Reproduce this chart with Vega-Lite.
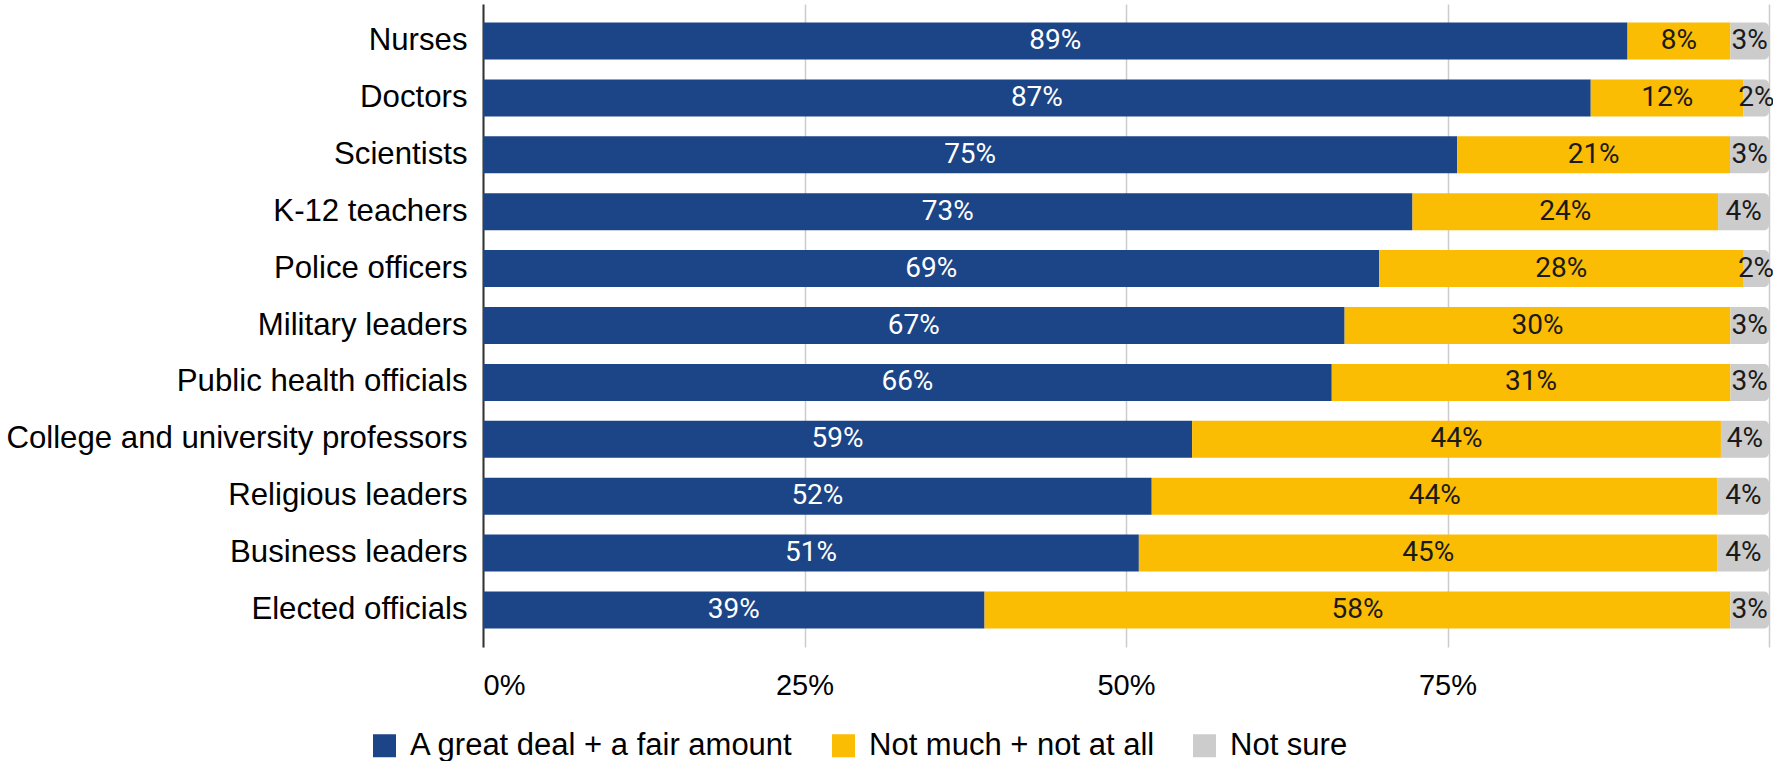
{
  "$schema": "https://vega.github.io/schema/vega-lite/v6.json",
  "autosize": "none",
  "width": 1286,
  "height": 643,
  "padding": {"left": 483, "top": 4, "right": 4, "bottom": 114},
  "background": "white",
  "config": {
    "view": {"stroke": null},
    "font": "Liberation Sans"
  },
  "data": {
    "values": [
      {"group": "Nurses", "response": "A great deal + a fair amount", "pct": 89},
      {"group": "Nurses", "response": "Not much + not at all", "pct": 8},
      {"group": "Nurses", "response": "Not sure", "pct": 3},
      {"group": "Doctors", "response": "A great deal + a fair amount", "pct": 87},
      {"group": "Doctors", "response": "Not much + not at all", "pct": 12},
      {"group": "Doctors", "response": "Not sure", "pct": 2},
      {"group": "Scientists", "response": "A great deal + a fair amount", "pct": 75},
      {"group": "Scientists", "response": "Not much + not at all", "pct": 21},
      {"group": "Scientists", "response": "Not sure", "pct": 3},
      {"group": "K-12 teachers", "response": "A great deal + a fair amount", "pct": 73},
      {"group": "K-12 teachers", "response": "Not much + not at all", "pct": 24},
      {"group": "K-12 teachers", "response": "Not sure", "pct": 4},
      {"group": "Police officers", "response": "A great deal + a fair amount", "pct": 69},
      {"group": "Police officers", "response": "Not much + not at all", "pct": 28},
      {"group": "Police officers", "response": "Not sure", "pct": 2},
      {"group": "Military leaders", "response": "A great deal + a fair amount", "pct": 67},
      {"group": "Military leaders", "response": "Not much + not at all", "pct": 30},
      {"group": "Military leaders", "response": "Not sure", "pct": 3},
      {"group": "Public health officials", "response": "A great deal + a fair amount", "pct": 66},
      {"group": "Public health officials", "response": "Not much + not at all", "pct": 31},
      {"group": "Public health officials", "response": "Not sure", "pct": 3},
      {"group": "College and university professors", "response": "A great deal + a fair amount", "pct": 59},
      {"group": "College and university professors", "response": "Not much + not at all", "pct": 44},
      {"group": "College and university professors", "response": "Not sure", "pct": 4},
      {"group": "Religious leaders", "response": "A great deal + a fair amount", "pct": 52},
      {"group": "Religious leaders", "response": "Not much + not at all", "pct": 44},
      {"group": "Religious leaders", "response": "Not sure", "pct": 4},
      {"group": "Business leaders", "response": "A great deal + a fair amount", "pct": 51},
      {"group": "Business leaders", "response": "Not much + not at all", "pct": 45},
      {"group": "Business leaders", "response": "Not sure", "pct": 4},
      {"group": "Elected officials", "response": "A great deal + a fair amount", "pct": 39},
      {"group": "Elected officials", "response": "Not much + not at all", "pct": 58},
      {"group": "Elected officials", "response": "Not sure", "pct": 3}
    ]
  },
  "transform": [
    {
      "stack": "pct",
      "groupby": ["group"],
      "sort": [{"field": "response", "order": "ascending"}],
      "offset": "normalize",
      "as": ["x0", "x1"]
    },
    {"calculate": "(datum.x0 + datum.x1) / 2", "as": "xmid"},
    {"calculate": "datum.pct + '%'", "as": "label"}
  ],
  "encoding": {
    "y": {
      "field": "group",
      "type": "nominal",
      "sort": null,
      "scale": {"paddingInner": 0.35, "paddingOuter": 0.325},
      "axis": {
        "title": null,
        "labelFontSize": 31.2,
        "labelColor": "#000000",
        "labelPadding": 16,
        "ticks": false,
        "tickSize": 0,
        "domain": true,
        "domainColor": "#333333",
        "domainWidth": 2,
        "grid": false,
        "labelLimit": 600
      }
    },
    "x": {
      "field": "x0",
      "type": "quantitative",
      "scale": {"domain": [0, 1], "nice": false},
      "axis": {
        "title": null,
        "values": [0, 0.25, 0.5, 0.75, 1],
        "labelExpr": "datum.value < 1 ? format(datum.value, '.0%') : ''",
        "labelFontSize": 29,
        "labelColor": "#000000",
        "labelPadding": 24,
        "labelBaseline": "top",
        "ticks": false,
        "tickSize": 0,
        "domain": false,
        "grid": true,
        "gridColor": "#cccccc",
        "gridWidth": 1.5
      }
    },
    "color": {
      "field": "response",
      "type": "nominal",
      "scale": {
        "domain": ["A great deal + a fair amount", "Not much + not at all", "Not sure"],
        "range": ["#1c4587", "#fbbc04", "#cccccc"]
      },
      "legend": {
        "title": null,
        "orient": "none",
        "direction": "horizontal",
        "legendX": -114,
        "legendY": 726,
        "symbolType": "square",
        "symbolSize": 529,
        "symbolStrokeWidth": 0,
        "labelFontSize": 31,
        "labelColor": "#000000",
        "labelOffset": 10,
        "columnPadding": 34,
        "labelLimit": 600
      }
    }
  },
  "layer": [
    {
      "transform": [{"filter": "datum.response !== 'Not sure'"}],
      "mark": {"type": "bar"},
      "encoding": {"x2": {"field": "x1"}}
    },
    {
      "transform": [{"filter": "datum.response === 'Not sure'"}],
      "mark": {"type": "bar", "cornerRadiusTopRight": 5, "cornerRadiusBottomRight": 5},
      "encoding": {"x2": {"field": "x1"}}
    },
    {
      "mark": {"type": "text", "fontSize": 28, "font": "Roboto", "baseline": "middle", "align": "center"},
      "encoding": {
        "x": {"field": "xmid", "type": "quantitative"},
        "text": {"field": "label", "type": "nominal"},
        "color": {
          "condition": {"test": "datum.response === 'A great deal + a fair amount'", "value": "#ffffff"},
          "value": "#1a1a1a"
        }
      }
    }
  ]
}
